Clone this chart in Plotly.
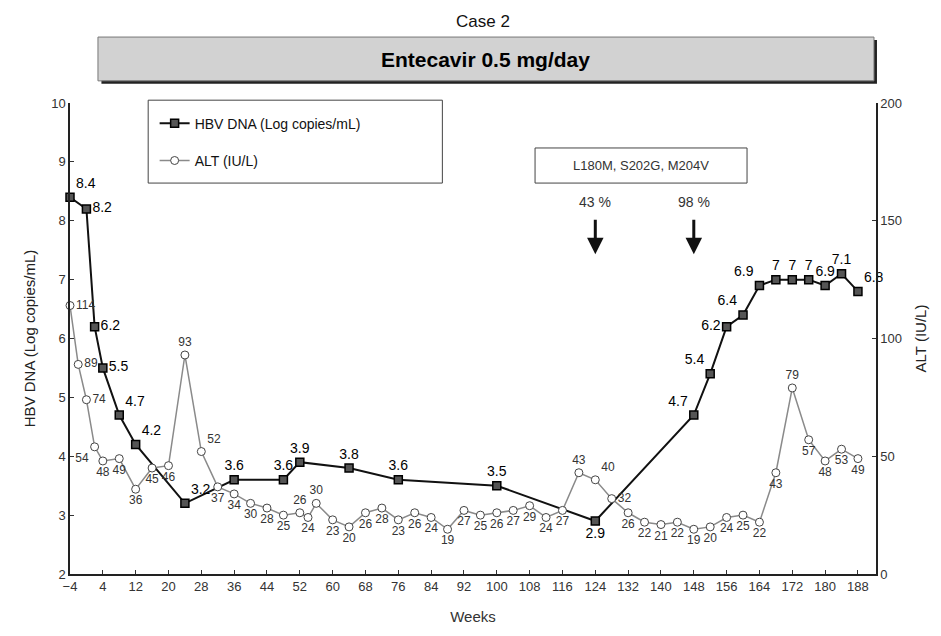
import plotly.graph_objects as go

# ---------------- data ----------------
dna_weeks = [-4, 0, 2, 4, 8, 12, 24, 36, 48, 52, 64, 76, 100, 124, 148, 152, 156, 160,
             164, 168, 172, 176, 180, 184, 188]
dna_values = [8.4, 8.2, 6.2, 5.5, 4.7, 4.2, 3.2, 3.6, 3.6, 3.9, 3.8, 3.6, 3.5, 2.9, 4.7,
              5.4, 6.2, 6.4, 6.9, 7, 7, 7, 6.9, 7.1, 6.8]

alt_weeks = [-4, -2, 0, 2, 4, 8, 12, 16, 20, 24, 28, 32, 36, 40, 44, 48, 52, 54, 56, 60,
             64, 68, 72, 76, 80, 84, 88, 92, 96, 100, 104, 108, 112, 116, 120, 124, 128,
             132, 136, 140, 144, 148, 152, 156, 160, 164, 168, 172, 176, 180, 184, 188]
alt_values = [114, 89, 74, 54, 48, 49, 36, 45, 46, 93, 52, 37, 34, 30, 28, 25, 26, 24, 30,
              23, 20, 26, 28, 23, 26, 24, 19, 27, 25, 26, 27, 29, 24, 27, 43, 40, 32, 26,
              22, 21, 22, 19, 20, 24, 25, 22, 43, 79, 57, 48, 53, 49]

x_ticks = list(range(-4, 189, 8))
y_ticks = [2, 3, 4, 5, 6, 7, 8, 9, 10]
y2_ticks = [0, 50, 100, 150, 200]

mutation_weeks = [124, 148]
mutation_pct = ["43 %", "98 %"]

# ---------------- label placement (style) ----------------
dna_pos = ["top right", "middle right", "middle right", "middle right", "top right",
           "top right", "top right", "top center", "top center", "top center", "top center",
           "top center", "top center", "bottom center", "top left", "top left",
           "middle left", "top left", "top left", "top center", "top center", "top center",
           "top center", "top center", "top right"]
alt_pos = ["middle right", "middle right", "middle right", "bottom left", "bottom center",
           "bottom center", "bottom center", "bottom center", "bottom center", "top center",
           "top right", "bottom center", "bottom center", "bottom center", "bottom center",
           "bottom center", "top center", "bottom center", "top center", "bottom center",
           "bottom center", "bottom center", "bottom center", "bottom center",
           "bottom center", "bottom center", "bottom center", "bottom center",
           "bottom center", "bottom center", "bottom center", "bottom center",
           "bottom center", "bottom center", "top center", "top right", "middle right",
           "bottom center", "bottom center", "bottom center", "bottom center",
           "bottom center", "bottom center", "bottom center", "bottom center",
           "bottom center", "bottom center", "top center", "bottom center",
           "bottom center", "bottom center", "bottom center"]

FONT = "Liberation Sans, Arial, sans-serif"

fig = go.Figure()

fig.add_trace(go.Scatter(
    x=dna_weeks, y=dna_values, name="HBV DNA (Log copies/mL)", legendgroup="a",
    legendrank=1, mode="lines+markers+text", cliponaxis=False,
    line=dict(color="#111", width=2),
    marker=dict(symbol="square", size=8, color="#555", line=dict(color="#000", width=1.5)),
    text=[str(v) for v in dna_values], textposition=dna_pos,
    textfont=dict(family=FONT, size=14, color="#000"),
))

fig.add_trace(go.Scatter(
    x=alt_weeks, y=alt_values, yaxis="y2", name="ALT (IU/L)", legendgroup="b",
    legendrank=2, mode="lines+markers+text", cliponaxis=False,
    line=dict(color="#8a8a8a", width=1.5),
    marker=dict(symbol="circle", size=8, color="white", line=dict(color="#444", width=1)),
    text=[str(v) for v in alt_values], textposition=alt_pos,
    textfont=dict(family=FONT, size=12, color="#333"),
))

shapes = [
    # banner shadow
    dict(type="rect", xref="paper", yref="paper", x0=0.039, x1=1.0012, y0=1.041, y1=1.134,
         fillcolor="#222", line=dict(width=0), layer="below"),
    # banner
    dict(type="rect", xref="paper", yref="paper", x0=0.0347, x1=0.9975, y0=1.047, y1=1.140,
         fillcolor="#d2d2d2", line=dict(color="#777", width=1), layer="below"),
    # legend box
    dict(type="rect", xref="paper", yref="paper", x0=0.097, x1=0.462, y0=0.830, y1=1.006,
         fillcolor="rgba(0,0,0,0)", line=dict(color="#444", width=1)),
    # mutation box
    dict(type="rect", xref="paper", yref="paper", x0=0.577, x1=0.840, y0=0.830, y1=0.9045,
         fillcolor="white", line=dict(color="#444", width=1)),
]

annotations = [
    dict(text="Case 2", xref="paper", yref="paper", x=0.513, y=1.172, showarrow=False,
         xanchor="center", yanchor="middle", font=dict(family=FONT, size=17, color="#111")),
    dict(text="Entecavir 0.5 mg/day", xref="paper", yref="paper", x=0.516, y=1.093,
         xanchor="center", yanchor="middle",
         showarrow=False, font=dict(family=FONT, size=21, color="#000", weight="bold")),
    dict(text="L180M, S202G, M204V", xref="paper", yref="paper", x=0.7085, y=0.867,
         xanchor="center", yanchor="middle",
         showarrow=False, font=dict(family=FONT, size=13, color="#333")),
]
for wk, pct in zip(mutation_weeks, mutation_pct):
    annotations.append(dict(text=pct, x=wk, xref="x", yref="paper", y=0.790,
                            xanchor="center", yanchor="middle",
                            showarrow=False, font=dict(family=FONT, size=14, color="#333")))
    annotations.append(dict(text="", x=wk, xref="x", yref="paper", y=0.679,
                            showarrow=True, ax=0, ay=-36, arrowhead=2, arrowsize=1.1,
                            arrowwidth=3, arrowcolor="#111"))

fig.update_layout(
    width=941, height=636,
    margin=dict(l=70, r=65, t=103, b=62),
    paper_bgcolor="white", plot_bgcolor="white",
    font=dict(family=FONT, size=13, color="#333"),
    showlegend=True,
    legend=dict(x=0.105, y=0.99, xanchor="left", yanchor="top", bgcolor="rgba(0,0,0,0)",
                borderwidth=0, tracegroupgap=16, traceorder="grouped",
                font=dict(family=FONT, size=14, color="#111")),
    xaxis=dict(range=[-4, 192.4], tickmode="array", tickvals=x_ticks,
               ticks="inside", ticklen=4, tickcolor="#333",
               showline=True, linecolor="#222", linewidth=1.5, showgrid=False,
               zeroline=False, tickfont=dict(size=13, color="#333"),
               title=dict(text="Weeks", font=dict(size=15, color="#333"), standoff=18)),
    yaxis=dict(range=[2, 10], tickmode="array", tickvals=y_ticks,
               ticks="inside", ticklen=4, tickcolor="#333",
               showline=True, linecolor="#222", linewidth=1.5, showgrid=False,
               zeroline=False, tickfont=dict(size=13, color="#333"),
               title=dict(text="HBV DNA (Log copies/mL)", font=dict(size=15, color="#222"),
                          standoff=12)),
    yaxis2=dict(range=[0, 200], tickmode="array", tickvals=y2_ticks, overlaying="y",
                side="right", ticks="inside", ticklen=4, tickcolor="#333",
                showline=True, linecolor="#222", linewidth=1.5, showgrid=False,
                zeroline=False, tickfont=dict(size=13, color="#333"),
                title=dict(text="ALT (IU/L)", font=dict(size=15, color="#222"), standoff=14)),
    shapes=shapes,
    annotations=annotations,
)

fig.write_html("out.html")
